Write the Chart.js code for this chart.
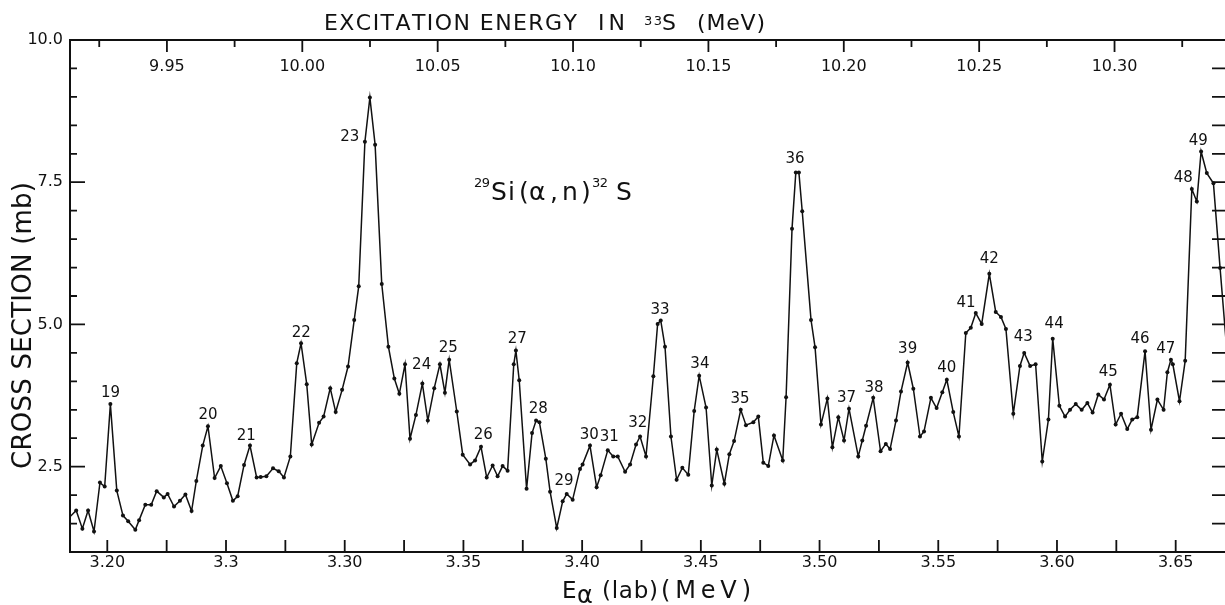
<!DOCTYPE html>
<html>
<head>
<meta charset="utf-8">
<script src="https://cdn.jsdelivr.net/npm/chart.js@4.4.1/dist/chart.umd.min.js"></script>
<style>
  html, body { margin: 0; padding: 0; background: #fff; }
  #wrap { width: 1225px; height: 605px; }
</style>
</head>
<body>
<div id="wrap"><canvas id="spectrum" width="1225" height="605"></canvas></div>
<script>
// E_alpha (lab, MeV) and measured 29Si(a,n) cross section (mb)
const alphaEnergy = [
  3.1838, 3.1869, 3.1895, 3.1919, 3.1944, 3.1969, 3.1989, 3.2013, 3.2040, 3.2066,
  3.2088, 3.2118, 3.2134, 3.2160, 3.2185, 3.2208, 3.2238, 3.2254, 3.2281, 3.2306,
  3.2329, 3.2355, 3.2375, 3.2402, 3.2424, 3.2452, 3.2478, 3.2504, 3.2529, 3.2549,
  3.2576, 3.2601, 3.2629, 3.2646, 3.2670, 3.2698, 3.2722, 3.2744, 3.2771, 3.2798,
  3.2816, 3.2840, 3.2861, 3.2892, 3.2911, 3.2939, 3.2962, 3.2989, 3.3014, 3.3040,
  3.3059, 3.3085, 3.3106, 3.3128, 3.3156, 3.3184, 3.3209, 3.3230, 3.3254, 3.3275,
  3.3300, 3.3327, 3.3350, 3.3377, 3.3401, 3.3422, 3.3440, 3.3472, 3.3497, 3.3528,
  3.3549, 3.3574, 3.3598, 3.3623, 3.3644, 3.3665, 3.3686, 3.3712, 3.3721, 3.3735,
  3.3766, 3.3789, 3.3806, 3.3820, 3.3847, 3.3865, 3.3893, 3.3918, 3.3935, 3.3960,
  3.3991, 3.4002, 3.4033, 3.4061, 3.4078, 3.4108, 3.4131, 3.4150, 3.4181, 3.4202,
  3.4227, 3.4244, 3.4269, 3.4300, 3.4318, 3.4331, 3.4349, 3.4374, 3.4398, 3.4422,
  3.4447, 3.4472, 3.4493, 3.4522, 3.4546, 3.4567, 3.4599, 3.4620, 3.4640, 3.4668,
  3.4690, 3.4721, 3.4742, 3.4763, 3.4784, 3.4808, 3.4845, 3.4859, 3.4884, 3.4900,
  3.4913, 3.4927, 3.4964, 3.4981, 3.5006, 3.5033, 3.5054, 3.5079, 3.5103, 3.5124,
  3.5163, 3.5180, 3.5196, 3.5226, 3.5257, 3.5279, 3.5297, 3.5322, 3.5343, 3.5371,
  3.5395, 3.5423, 3.5440, 3.5469, 3.5493, 3.5517, 3.5536, 3.5563, 3.5587, 3.5616,
  3.5637, 3.5658, 3.5683, 3.5715, 3.5742, 3.5764, 3.5785, 3.5816, 3.5844, 3.5862,
  3.5887, 3.5910, 3.5938, 3.5964, 3.5982, 3.6010, 3.6034, 3.6055, 3.6079, 3.6104,
  3.6128, 3.6150, 3.6174, 3.6198, 3.6223, 3.6247, 3.6270, 3.6296, 3.6317, 3.6338,
  3.6371, 3.6396, 3.6423, 3.6449, 3.6465, 3.6480, 3.6488, 3.6516, 3.6540, 3.6568,
  3.6589, 3.6607, 3.6631, 3.6659, 3.6687, 3.6720
];
const crossSection = [
  1.60, 1.73, 1.41, 1.73, 1.36, 2.22, 2.15, 3.60, 2.08, 1.64,
  1.54, 1.39, 1.56, 1.83, 1.83, 2.07, 1.96, 2.02, 1.80, 1.90,
  2.01, 1.72, 2.25, 2.87, 3.21, 2.30, 2.51, 2.21, 1.90, 1.98,
  2.53, 2.87, 2.31, 2.32, 2.33, 2.47, 2.42, 2.31, 2.68, 4.32,
  4.67, 3.95, 2.89, 3.27, 3.38, 3.88, 3.46, 3.85, 4.26, 5.08,
  5.67, 8.21, 8.99, 8.16, 5.71, 4.61, 4.05, 3.78, 4.30, 2.99,
  3.41, 3.96, 3.31, 3.88, 4.30, 3.80, 4.38, 3.47, 2.71, 2.54,
  2.61, 2.85, 2.31, 2.52, 2.33, 2.51, 2.43, 4.30, 4.54, 4.02,
  2.11, 3.09, 3.31, 3.28, 2.64, 2.06, 1.42, 1.89, 2.02, 1.92,
  2.46, 2.54, 2.87, 2.14, 2.35, 2.79, 2.68, 2.68, 2.41, 2.54,
  2.89, 3.03, 2.68, 4.09, 5.01, 5.07, 4.61, 3.03, 2.27, 2.48,
  2.36, 3.48, 4.10, 3.54, 2.17, 2.80, 2.20, 2.72, 2.95, 3.50,
  3.23, 3.28, 3.38, 2.57, 2.51, 3.05, 2.61, 3.72, 6.68, 7.67,
  7.67, 6.99, 5.08, 4.60, 3.24, 3.70, 2.84, 3.37, 2.96, 3.52,
  2.68, 2.96, 3.22, 3.71, 2.77, 2.90, 2.81, 3.31, 3.82, 4.33,
  3.87, 3.03, 3.12, 3.71, 3.53, 3.81, 4.03, 3.46, 3.03, 4.85,
  4.94, 5.20, 5.01, 5.89, 5.22, 5.13, 4.92, 3.43, 4.27, 4.50,
  4.27, 4.30, 2.59, 3.33, 4.75, 3.57, 3.38, 3.50, 3.60, 3.50,
  3.62, 3.45, 3.77, 3.68, 3.94, 3.24, 3.43, 3.16, 3.33, 3.37,
  4.53, 3.15, 3.68, 3.50, 4.16, 4.38, 4.30, 3.65, 4.36, 7.38,
  7.16, 8.04, 7.66, 7.48, 5.99, 4.31
];

// resonance numbers and where their tags sit (MeV, mb)
const peakNumbers = [19, 20, 21, 22, 23, 24, 25, 26, 27, 28, 29, 30, 31, 32, 33, 34,
  35, 36, 37, 38, 39, 40, 41, 42, 43, 44, 45, 46, 47, 48, 49];
const peakTagEnergy = [3.2014, 3.2424, 3.2585, 3.2817, 3.3021, 3.3324, 3.3436, 3.3584,
  3.3727, 3.3815, 3.3924, 3.4030, 3.4114, 3.4234, 3.4328, 3.4496, 3.4665, 3.4897,
  3.5114, 3.5229, 3.5371, 3.5536, 3.5617, 3.5715, 3.5858, 3.5988, 3.6216, 3.6350,
  3.6458, 3.6532, 3.6595];
const peakTagMb = [3.80, 3.40, 3.03, 4.85, 8.30, 4.29, 4.59, 3.05, 4.75, 3.52, 2.25,
  3.06, 3.02, 3.27, 5.26, 4.30, 3.68, 7.91, 3.71, 3.88, 4.57, 4.23, 5.38, 6.14, 4.78,
  5.01, 4.16, 4.75, 4.56, 7.58, 8.23];

// axes
const bottomTickValues = [3.20, 3.25, 3.30, 3.35, 3.40, 3.45, 3.50, 3.55, 3.60, 3.65];
const bottomTickLabels = ['3.20', '3.3', '3.30', '3.35', '3.40', '3.45', '3.50', '3.55', '3.60', '3.65'];
const bottomMinorTicks = [3.225, 3.275, 3.325, 3.375, 3.425, 3.475, 3.525, 3.575, 3.625];
const topTickValues = [9.95, 10.00, 10.05, 10.10, 10.15, 10.20, 10.25, 10.30];
const topTickLabels = ['9.95', '10.00', '10.05', '10.10', '10.15', '10.20', '10.25', '10.30'];
const topMinorTicks = [9.925, 9.975, 10.025, 10.075, 10.125, 10.175, 10.225, 10.275, 10.325];
const leftTickValues = [2.5, 5.0, 7.5, 10.0];
const leftTickLabels = ['2.5', '5.0', '7.5', '10.0'];
const halfMbTicks = [1.5, 2.0, 2.5, 3.0, 3.5, 4.0, 4.5, 5.0, 5.5, 6.0, 6.5, 7.0, 7.5, 8.0, 8.5, 9.0, 9.5];

const INK = '#111';
const FONT = '"DejaVu Sans", Verdana, sans-serif';

// lays characters out so the string fills a given width (stencil-like lettering)
function spacedText(ctx, str, x, y, width) {
  const chars = [...str];
  const widths = chars.map(c => ctx.measureText(c).width);
  const natural = widths.reduce((a, b) => a + b, 0);
  const gap = chars.length > 1 && width ? (width - natural) / (chars.length - 1) : 0;
  let cx = x;
  chars.forEach((c, i) => {
    ctx.fillText(c, cx, y);
    cx += widths[i] + gap;
  });
}

function piece(ctx, size, str, x, y, width) {
  ctx.font = `${size}px ${FONT}`;
  spacedText(ctx, str, x, y, width);
}

const framePlugin = {
  id: 'frame',
  afterDraw(chart) {
    const { ctx, chartArea: area, scales } = chart;
    const xs = scales.x, xt = scales.x2, ys = scales.y;
    ctx.save();
    ctx.strokeStyle = INK;
    ctx.fillStyle = INK;

    // frame (no right edge)
    ctx.lineWidth = 2;
    ctx.beginPath();
    ctx.moveTo(area.left - 1, area.top); ctx.lineTo(area.right, area.top);
    ctx.moveTo(area.left, area.top); ctx.lineTo(area.left, area.bottom);
    ctx.moveTo(area.left - 1, area.bottom); ctx.lineTo(area.right, area.bottom);
    ctx.stroke();

    // inward ticks
    ctx.lineWidth = 1.8;
    ctx.beginPath();
    bottomTickValues.concat(bottomMinorTicks).forEach(v => {
      const px = xs.getPixelForValue(v);
      ctx.moveTo(px, area.bottom); ctx.lineTo(px, area.bottom - 12);
    });
    topTickValues.forEach(v => {
      const px = xt.getPixelForValue(v);
      ctx.moveTo(px, area.top); ctx.lineTo(px, area.top + 12);
    });
    topMinorTicks.forEach(v => {
      const px = xt.getPixelForValue(v);
      ctx.moveTo(px, area.top); ctx.lineTo(px, area.top + 7);
    });
    halfMbTicks.forEach(v => {
      const py = ys.getPixelForValue(v);
      const len = leftTickValues.includes(v) ? 15 : 7;
      ctx.moveTo(area.left, py); ctx.lineTo(area.left + len, py);
      ctx.moveTo(area.right, py); ctx.lineTo(area.right - 13, py);
    });
    ctx.stroke();

    // excitation energy labels sit inside the frame
    ctx.font = `16px ${FONT}`;
    ctx.textAlign = 'center';
    ctx.textBaseline = 'middle';
    topTickValues.forEach((v, i) => {
      ctx.fillText(topTickLabels[i], xt.getPixelForValue(v), area.top + 27);
    });

    // resonance numbers
    ctx.font = `15px ${FONT}`;
    peakNumbers.forEach((n, i) => {
      ctx.fillText(String(n), xs.getPixelForValue(peakTagEnergy[i]), ys.getPixelForValue(peakTagMb[i]));
    });

    ctx.textAlign = 'left';
    ctx.textBaseline = 'alphabetic';

    // upper axis title
    piece(ctx, 22, 'EXCITATION ENERGY', 324, 30, 253);
    piece(ctx, 22, 'IN', 598, 30, 27);
    piece(ctx, 13, '33', 644, 25, 18);
    piece(ctx, 22, 'S', 662, 30);
    piece(ctx, 22, '(MeV)', 697, 30, 68);

    // reaction
    piece(ctx, 13, '29', 474, 187, 16);
    piece(ctx, 25, 'Si', 491, 200, 24);
    piece(ctx, 25, '(', 519, 200);
    piece(ctx, 25, '\u03b1', 529, 200);
    piece(ctx, 25, ',', 550, 200);
    piece(ctx, 25, 'n', 562, 200);
    piece(ctx, 25, ')', 581, 200);
    piece(ctx, 13, '32', 592, 187, 16);
    piece(ctx, 25, 'S', 616, 200);

    // lower axis title
    piece(ctx, 23, 'E', 562, 598);
    piece(ctx, 24, '\u03b1', 577, 603);
    piece(ctx, 23, '(lab)', 602, 598, 56);
    piece(ctx, 24, '(MeV)', 661, 598, 90);

    // vertical axis title
    ctx.translate(31, 469);
    ctx.rotate(-Math.PI / 2);
    piece(ctx, 26, 'CROSS SECTION (mb)', 0, 0, 287);

    ctx.restore();
  }
};

new Chart(document.getElementById('spectrum'), {
  type: 'line',
  data: {
    datasets: [{
      data: alphaEnergy.map((e, i) => ({ x: e, y: crossSection[i] })),
      borderColor: INK,
      borderWidth: 1.5,
      pointRadius: 2,
      pointBackgroundColor: INK,
      pointBorderWidth: 0,
      pointHoverRadius: 0,
      tension: 0,
      clip: 0
    }]
  },
  options: {
    responsive: false,
    animation: false,
    events: [],
    layout: { padding: 0, autoPadding: false },
    plugins: { legend: { display: false }, tooltip: { enabled: false } },
    scales: {
      x: {
        type: 'linear',
        position: 'bottom',
        min: 3.18429,
        max: 3.67077,
        grid: { display: false, drawTicks: false },
        border: { display: false },
        afterBuildTicks: axis => { axis.ticks = bottomTickValues.map(v => ({ value: v })); },
        afterFit: axis => { axis.height = 53; },
        ticks: {
          autoSkip: false,
          maxRotation: 0,
          padding: 1,
          color: INK,
          font: { family: FONT, size: 16 },
          callback: (value, index) => bottomTickLabels[index]
        }
      },
      x2: {
        type: 'linear',
        axis: 'x',
        position: 'top',
        min: 9.9142,
        max: 10.3408,
        grid: { display: false, drawTicks: false },
        border: { display: false },
        ticks: { display: false },
        afterFit: axis => { axis.height = 40; }
      },
      y: {
        type: 'linear',
        position: 'left',
        min: 1,
        max: 10,
        grid: { display: false, drawTicks: false },
        border: { display: false },
        afterBuildTicks: axis => { axis.ticks = leftTickValues.map(v => ({ value: v })); },
        afterFit: axis => { axis.width = 70; },
        ticks: {
          padding: 7,
          color: INK,
          font: { family: FONT, size: 16 },
          callback: (value, index) => leftTickLabels[index]
        }
      }
    }
  },
  plugins: [framePlugin]
});
</script>
</body>
</html>
